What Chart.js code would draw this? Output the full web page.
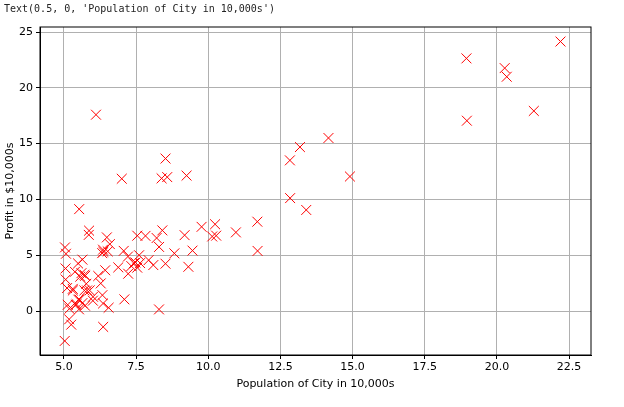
<!DOCTYPE html>
<html><head><meta charset="utf-8">
<script src="https://cdn.jsdelivr.net/npm/chart.js@4"></script>
<style>
html,body{margin:0;padding:0;background:#fff;width:624px;height:407px;overflow:hidden;}
#t{position:absolute;left:4px;top:3px;font:10px "DejaVu Sans Mono",monospace;color:#222;}
#w{position:absolute;left:0;top:0;width:624px;height:407px;}
</style></head><body>
<div id="w"><canvas id="c" width="624" height="407"></canvas></div>
<div id="t">Text(0.5, 0, 'Population of City in 10,000s')</div>
<script>
const population=[6.1101,5.5277,8.5186,7.0032,5.8598,8.3829,7.4764,8.5781,6.4862,5.0546,5.7107,14.164,5.734,8.4084,5.6407,5.3794,6.3654,5.1301,6.4296,7.0708,6.1891,20.27,5.4901,6.3261,5.5649,18.945,12.828,10.957,13.176,22.203,5.2524,6.5894,9.2482,5.8918,8.2111,7.9334,8.0959,5.6063,12.836,6.3534,5.4069,6.8825,11.708,5.7737,7.8247,7.0931,5.0702,5.8014,11.7,5.5416,7.5402,5.3077,7.4239,7.6031,6.3328,6.3589,6.2742,5.6397,9.3102,9.4536,8.8254,5.1793,21.279,14.908,18.959,7.2182,8.2951,10.236,5.4994,20.341,10.136,7.3345,6.0062,7.2259,5.0269,6.5479,7.5386,5.0365,10.274,5.1077,5.7292,5.1884,6.3557,9.7687,6.5159,8.5172,9.1802,6.002,5.5204,5.0594,5.7077,7.6366,5.8707,5.3054,8.2934,13.394,5.4369];
const profit=[17.592,9.1302,13.662,11.854,6.8233,11.886,4.3483,12,6.5987,3.8166,3.2522,15.505,3.1551,7.2258,0.71618,3.5129,5.3048,0.56077,3.6518,5.3893,3.1386,21.767,4.263,5.1875,3.0825,22.638,13.501,7.0467,14.692,24.147,-1.22,5.9966,12.134,1.8495,6.5426,4.5623,4.1164,3.3928,10.117,5.4974,0.55657,3.9115,5.3854,2.4406,6.7318,1.0463,5.1337,1.844,8.0043,1.0179,6.7504,1.8396,4.2885,4.9981,1.4233,-1.4211,2.4756,4.6042,3.9624,5.4141,5.1694,-0.74279,17.929,12.054,17.054,4.8852,5.7442,7.7754,1.0173,20.992,6.6799,4.0259,1.2784,3.3411,-2.6807,0.29678,3.8845,5.7014,6.7526,2.0576,0.47953,0.20421,0.67861,7.5435,5.3436,4.2415,6.7981,0.92695,0.152,2.8214,1.8451,4.2959,7.2029,1.9869,0.14454,9.0551,0.61705];
const xTicks=[5.0,7.5,10.0,12.5,15.0,17.5,20.0,22.5];
const yTicks=[0,5,10,15,20,25];
const font={family:'"DejaVu Sans",sans-serif',size:11};
const box={id:'box',afterDraw(ch){const a=ch.chartArea,c=ch.ctx;c.save();c.strokeStyle='#000';c.lineWidth=1;c.strokeRect(a.left,a.top,a.right-a.left,a.bottom-a.top);c.restore();}};
new Chart(document.getElementById('c'),{type:'scatter',
data:{datasets:[{data:population.map((x,i)=>({x:x,y:profit[i]})),pointStyle:'crossRot',radius:7,hoverRadius:7,
pointBorderColor:'#ff0000',pointBackgroundColor:'#ff0000',borderColor:'#ff0000',backgroundColor:'#ff0000',hoverBorderColor:'#ff0000',hoverBackgroundColor:'#ff0000',borderWidth:1,pointBorderWidth:1,hoverBorderWidth:1}]},
options:{responsive:false,animation:false,events:[],layout:{padding:{left:0,top:27,right:33,bottom:16}},
plugins:{legend:{display:false},tooltip:{enabled:false}},
scales:{
x:{type:'linear',min:4.17,max:23.26,afterFit(s){s.height=36;},afterBuildTicks(s){s.ticks=xTicks.map(v=>({value:v}));},
ticks:{font,color:'#000',callback:v=>v.toFixed(1),maxRotation:0,autoSkip:false,padding:2},grid:{color:'#b0b0b0',tickColor:'#000',tickLength:4},border:{color:'#000'},
title:{display:true,text:'Population of City in 10,000s',font:{family:'"DejaVu Sans",sans-serif',size:11},color:'#000',padding:{top:2,bottom:0}}},
y:{type:'linear',min:-3.94,max:25.45,afterFit(s){s.width=40;},afterBuildTicks(s){s.ticks=yTicks.map(v=>({value:v}));},
ticks:{font,color:'#000',autoSkip:false},grid:{color:'#b0b0b0',tickColor:'#000',tickLength:4},border:{color:'#000'},
title:{display:true,text:'Profit in $10,000s',font:{family:'"DejaVu Sans",sans-serif',size:11},color:'#000',padding:{bottom:2}}}}},
plugins:[box]});
</script></body></html>
